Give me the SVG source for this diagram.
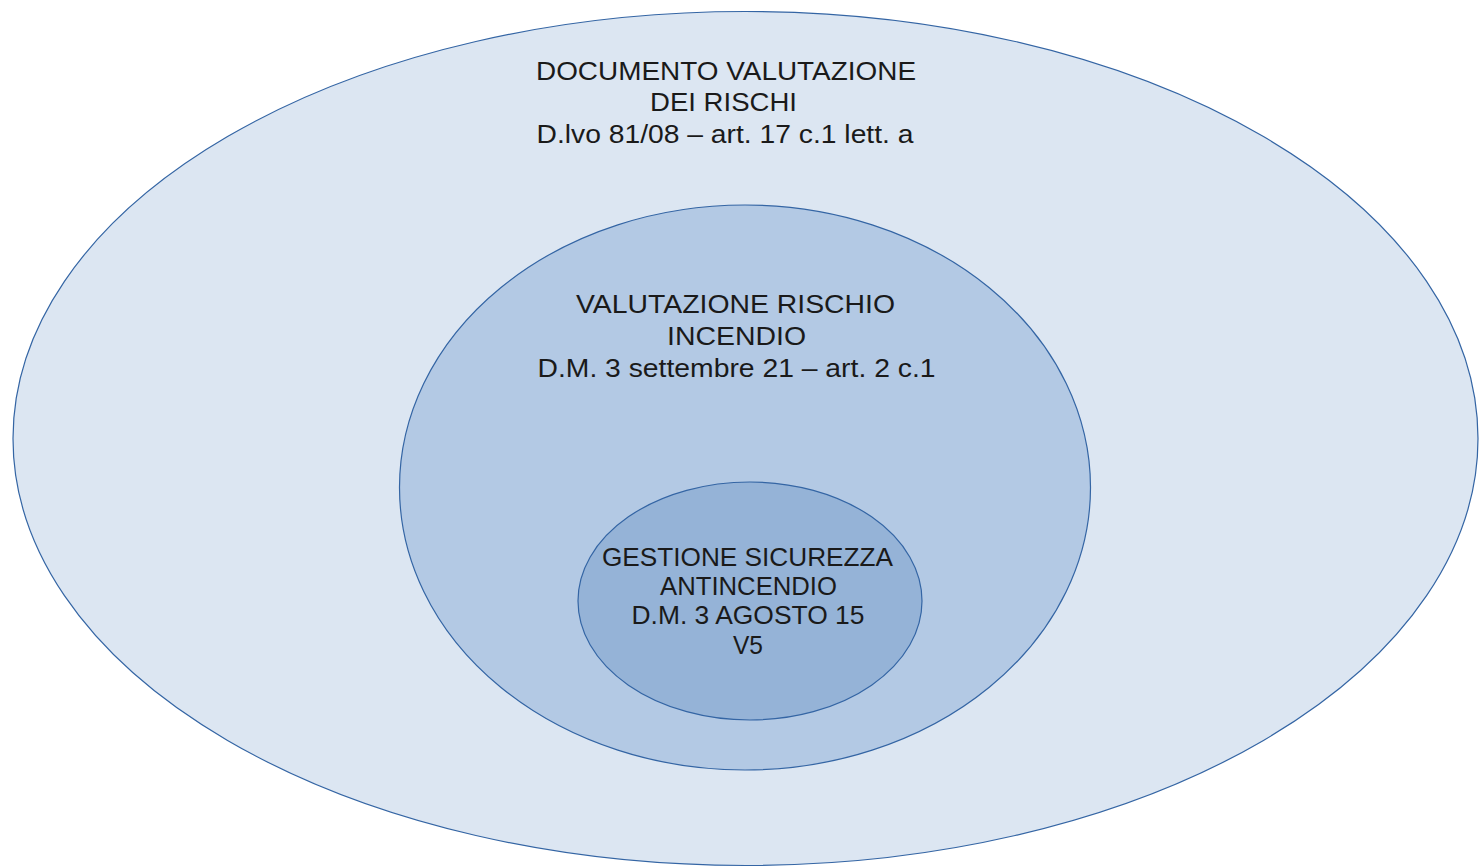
<svg xmlns="http://www.w3.org/2000/svg" width="1480" height="867" viewBox="0 0 1480 867">
<style>
.e{stroke:#3465a4;stroke-width:1.2}
.t{font-family:"Liberation Sans",Arial,sans-serif;font-size:26px;fill:#1a1a1a;text-anchor:middle}
.s{font-size:25px}
</style>
<rect width="1480" height="867" fill="#ffffff"/>
<g id="outer">
<ellipse class="e" cx="745.5" cy="438.5" rx="732.5" ry="427" fill="#dce6f2"/>
<text class="t" x="726" y="80" textLength="380" lengthAdjust="spacingAndGlyphs">DOCUMENTO VALUTAZIONE</text>
<text class="t" x="723.5" y="111" textLength="147" lengthAdjust="spacingAndGlyphs">DEI RISCHI</text>
<text class="t" x="725" y="143" textLength="377" lengthAdjust="spacingAndGlyphs">D.lvo 81/08 – art. 17 c.1 lett. a</text>
</g>
<g id="middle">
<ellipse class="e" cx="745" cy="487.5" rx="345.5" ry="282.5" fill="#b3c9e4"/>
<text class="t" x="735.5" y="313" textLength="319" lengthAdjust="spacingAndGlyphs">VALUTAZIONE RISCHIO</text>
<text class="t" x="736.5" y="345" textLength="139" lengthAdjust="spacingAndGlyphs">INCENDIO</text>
<text class="t" x="736.5" y="377" textLength="398" lengthAdjust="spacingAndGlyphs">D.M. 3 settembre 21 – art. 2 c.1</text>
</g>
<g id="inner">
<ellipse class="e" cx="750" cy="601" rx="172" ry="119" fill="#95b3d7"/>
<text class="t s" x="747.5" y="566" textLength="291" lengthAdjust="spacingAndGlyphs">GESTIONE SICUREZZA</text>
<text class="t s" x="748.5" y="595" textLength="177" lengthAdjust="spacingAndGlyphs">ANTINCENDIO</text>
<text class="t s" x="748" y="624" textLength="233" lengthAdjust="spacingAndGlyphs">D.M. 3 AGOSTO 15</text>
<text class="t s" x="748" y="654" textLength="30" lengthAdjust="spacingAndGlyphs">V5</text>
</g>
<g id="connectors"/>
</svg>
